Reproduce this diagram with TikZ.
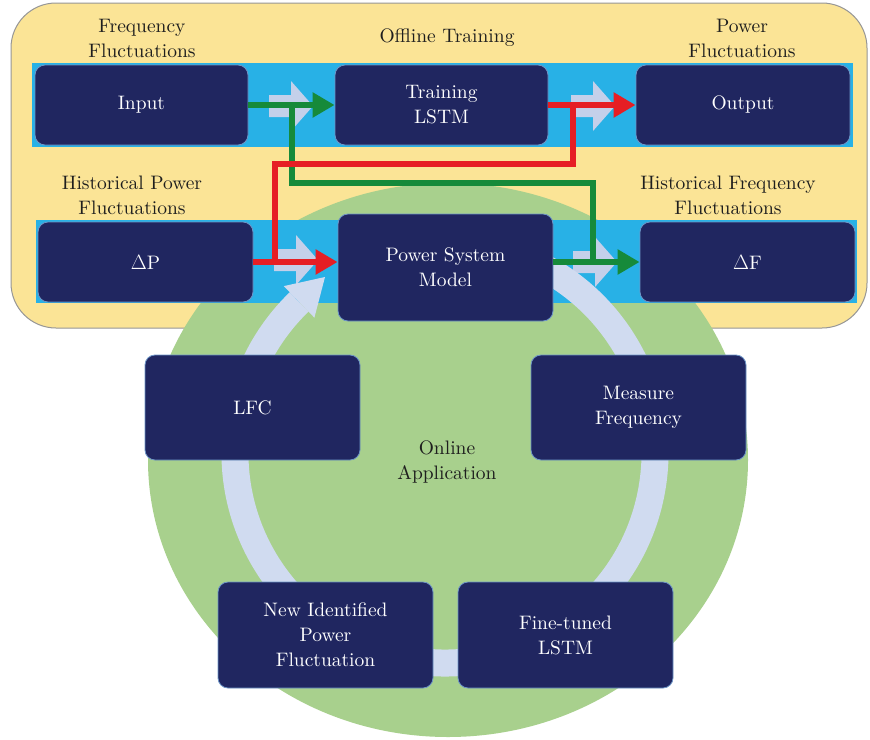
\documentclass[tikz,border=0pt]{standalone}
\usepackage{fontspec}
\setmainfont{lmroman10-regular.otf}
\usetikzlibrary{arrows.meta,calc}
\definecolor{bgyellow}{RGB}{251,228,150}
\definecolor{bggreen}{RGB}{168,208,141}
\definecolor{bandc}{RGB}{40,177,230}
\definecolor{chevc}{RGB}{196,208,234}
\definecolor{ringc}{RGB}{208,219,240}
\definecolor{navy}{RGB}{32,38,96}
\definecolor{boxedge}{RGB}{110,150,200}
\definecolor{redl}{RGB}{230,30,36}
\definecolor{greenl}{RGB}{22,138,58}
\definecolor{txtc}{RGB}{30,30,30}
\definecolor{framec}{RGB}{150,150,150}
\newcommand\mychev[2]{\fill[chevc] (#1-22,#2-11) -- (#1,#2-11) -- (#1,#2-25) -- (#1+22,#2) -- (#1,#2+25) -- (#1,#2+11) -- (#1-22,#2+11) -- cycle;}
\begin{document}
\begin{tikzpicture}[x=1pt,y=-1pt,
  box/.style={draw=boxedge,line width=0.8pt,fill=navy,rounded corners=10pt,text=white,align=center,
    font=\fontsize{19.5}{25}\selectfont,inner sep=0pt,minimum width=214pt,minimum height=80pt},
  lbl/.style={text=txtc,align=center,font=\fontsize{19.5}{25}\selectfont,inner sep=0pt},
  redarr/.style={draw=redl,line width=6pt},
  grnarr/.style={draw=greenl,line width=6pt},
  tipr/.style={-{Triangle[length=22pt,width=24pt]}},
]
\useasboundingbox (0,0) rectangle (870,739);
\fill[white] (0,0) rectangle (870,739);
% backgrounds
\draw[fill=bgyellow,draw=framec,line width=1pt,rounded corners=45pt] (11,3) rectangle (867,328);
\fill[bggreen] (448,460) ellipse [x radius=300, y radius=277];
\fill[bandc] (32,63) rectangle (853,147);
\fill[bandc] (36,220) rectangle (857,303);
\mychev{291}{106}
\mychev{593}{106}
\mychev{296}{260}
\mychev{595}{262}
% cycle ring
\draw[ringc,line width=27pt] (445,453) ++(-80:210) arc[start angle=-80,end angle=226,radius=210];
\fill[ringc] (283.8,286.1) -- (325,277) -- (314.4,317.7) -- cycle;
% boxes
\node[box,minimum width=213pt] (in) at (141.5,105) {Input};
\node[box,minimum width=213pt] (train) at (441.5,105) {Training\\LSTM};
\node[box] (out) at (743,105) {Output};
\node[box,minimum width=215pt] (dP) at (145.5,262) {$\Delta$P};
\node[box,minimum width=215pt,minimum height=107pt] (psm) at (445.5,267.5) {Power System\\Model};
\node[box,minimum width=215pt] (dF) at (747.5,262) {$\Delta$F};
\node[box,minimum width=215pt,minimum height=105pt] (lfc) at (252.5,407.5) {LFC};
\node[box,minimum width=215pt,minimum height=105pt] (mf) at (638.5,407.5) {Measure\\Frequency};
\node[box,minimum width=215pt,minimum height=106pt] (nip) at (325.5,635) {New Identified\\Power\\Fluctuation};
\node[box,minimum width=215pt,minimum height=106pt] (ft) at (565.5,635) {Fine-tuned\\LSTM};
% labels
\node[lbl] (lfreq) at (142,38) {Frequency\\Fluctuations};
\node[lbl] (loff) at (447,38) {Offline Training};
\node[lbl] (lpow) at (742,38) {Power\\Fluctuations};
\node[lbl] (lhp) at (132,195) {Historical Power\\Fluctuations};
\node[lbl] (lhf) at (728,195) {Historical Frequency\\Fluctuations};
\node[lbl] (lonl) at (447,462) {Online\\Application};
% connectors
\coordinate (gA) at (292,105);
\coordinate (gB) at (292,183);
\coordinate (gC) at (593,183);
\coordinate (gD) at (593,262);
\coordinate (rA) at (573,105);
\coordinate (rB) at (573,164);
\coordinate (rC) at (275,164);
\coordinate (rD) at (275,262);
\draw[grnarr,tipr] (in.east) -- (train.west);
\draw[grnarr] (gA) -- (gB) -- (gC) -- (gD);
\draw[grnarr,tipr] (psm.east |- dF.west) -- (dF.west);
\draw[redarr,tipr] (train.east) -- (out.west);
\draw[redarr] (rA) -- (rB) -- (rC) -- (rD);
\draw[redarr,tipr] (dP.east) -- (dP.east -| psm.west);
\end{tikzpicture}
\end{document}
